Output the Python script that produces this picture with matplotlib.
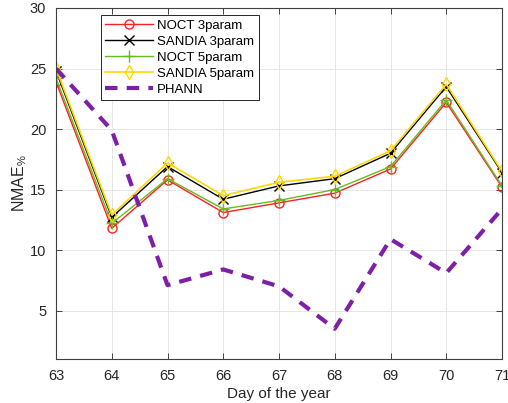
import matplotlib
matplotlib.use('Agg')
import matplotlib.pyplot as plt

plt.rcParams['font.family'] = ['Liberation Sans', 'DejaVu Sans']
plt.rcParams['mathtext.fontset'] = 'custom'
plt.rcParams['mathtext.rm'] = 'Liberation Sans'

days = [63, 64, 65, 66, 67, 68, 69, 70, 71]
noct3 = [23.9, 11.8, 15.8, 13.1, 13.9, 14.7, 16.7, 22.2, 15.2]
sandia3 = [24.8, 12.7, 16.9, 14.2, 15.3, 15.9, 18.0, 23.5, 16.4]
noct5 = [24.2, 12.2, 15.9, 13.4, 14.1, 15.0, 16.9, 22.4, 15.3]
sandia5 = [25.0, 12.9, 17.2, 14.5, 15.6, 16.1, 18.2, 23.7, 16.5]
phann = [25.0, 19.9, 7.1, 8.4, 7.0, 3.5, 10.9, 8.1, 13.4]

fig = plt.figure(figsize=(5.08, 4.03), dpi=100)
ax = fig.add_axes([56/508, 1 - 359/403, 446/508, 351/403])

ax.plot(days, noct3, color='#ff2020', marker='o', markersize=6.5, markerfacecolor='none',
        linewidth=1.0, label='NOCT 3param')
ax.plot(days, sandia3, color='black', marker='x', markersize=6.5,
        linewidth=1.0, label='SANDIA 3param')
ax.plot(days, noct5, color='#66bb22', marker='+', markersize=8,
        linewidth=1.0, label='NOCT 5param')
ax.plot(days, sandia5, color='#ffd700', marker='d', markersize=7.5, markerfacecolor='none',
        linewidth=1.2, label='SANDIA 5param')
ax.plot(days, phann, color='#7e1fa8', linestyle=(0, (3, 2.2)), linewidth=3,
        label='PHANN')

ax.set_xlim(63, 71)
ax.set_ylim(1, 30)
ax.set_xticks(days)
ax.set_yticks([5, 10, 15, 20, 25, 30])
ax.grid(True, color='#e6e6e6', linewidth=0.7)
ax.set_axisbelow(True)
ax.tick_params(direction='in', top=True, right=True, labelsize=10.5, colors='#262626',
               length=4, width=0.6, pad=7)
for s in ax.spines.values():
    s.set_color('#404040')
    s.set_linewidth(0.8)

ax.set_xlabel('Day of the year', fontsize=11, color='#262626', labelpad=3)
ax.set_ylabel('NMAE$_{\\%}$', fontsize=11.5, color='#262626', labelpad=1)

leg = ax.legend(loc='upper left', bbox_to_anchor=(0.1, 0.98), fontsize=9.5,
                fancybox=False, framealpha=1, edgecolor='#262626',
                handlelength=3.6, borderpad=0.35, labelspacing=0.28, handletextpad=0.35,
                borderaxespad=0)
leg.get_frame().set_linewidth(0.7)

fig.savefig('out.png', dpi=100, facecolor='white')
